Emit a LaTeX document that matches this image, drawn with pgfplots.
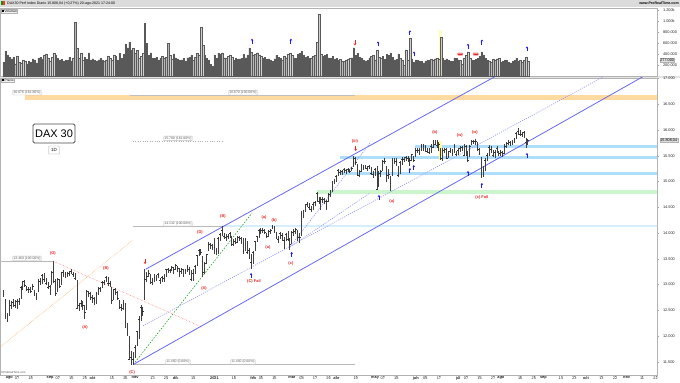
\documentclass[border=0pt]{standalone}
\usepackage{fontspec}
\setmainfont{Liberation Sans}
\usepackage{pgfplots}
\usepackage{pgfplotstable}
\pgfplotsset{compat=1.18}
\usetikzlibrary{arrows.meta}
\definecolor{chan}{RGB}{105,105,235}
\definecolor{dotb}{RGB}{140,140,250}
\definecolor{bandb}{RGB}{175,222,250}
\definecolor{bandg}{RGB}{205,245,205}
\definecolor{bando}{RGB}{253,218,160}
\definecolor{wred}{RGB}{235,35,35}
\definecolor{arrb}{RGB}{30,30,230}

\pgfplotstableread{
i H L C
-3 12900 12760 12822
-2 12720 12330 12379
-1 12450 12270 12313
0 12700 12400 12646
1 12680 12520 12600
2 12720 12560 12660
3 12700 12540 12591
4 12720 12520 12674
5 12750 12600 12687
6 12980 12720 12946
7 13080 12900 13058
8 13090 12950 12993
9 12980 12880 12901
10 12960 12830 12920
11 12950 12840 12881
12 13010 12900 12977
13 12900 12780 12830
14 12840 12700 12764
15 13100 12850 13066
16 13120 13000 13062
17 13200 13020 13190
18 13220 13060 13096
19 13120 12990 13033
20 13050 12920 12945
21 13000 12800 12974
22 13260 13000 13243
23 13460 13040 13057
24 13100 12770 12842
25 13120 12860 13100
26 13110 12940 12968
27 13250 13000 13237
28 13290 13150 13208
29 13240 13130 13202
30 13240 13150 13193
31 13260 13160 13217
32 13300 13200 13255
33 13240 13150 13208
34 13230 13100 13116
35 13090 12520 12542
36 12650 12480 12594
37 12700 12560 12642
38 12680 12500 12606
39 12600 12340 12469
40 12900 12500 12870
41 12880 12760 12825
42 12850 12700 12760
43 12800 12650 12731
44 12760 12600 12689
45 12850 12620 12828
46 12950 12800 12906
47 12960 12850 12928
48 13070 12930 13042
49 13090 13000 13051
50 13170 13050 13138
51 13150 12980 13018
52 13080 12950 13028
53 12950 12630 12703
54 12920 12700 12908
55 12930 12800 12854
56 12880 12700 12737
57 12700 12520 12558
58 12620 12480 12543
59 12700 12500 12646
60 12650 12170 12178
61 12250 12000 12064
62 12000 11550 11560
63 11720 11450 11598
64 11700 11450 11556
65 11820 11580 11789
66 12100 11800 12089
67 12400 11950 12324
68 12600 12300 12568
69 12560 12400 12480
70 13300 12700 13096
71 13250 13050 13163
72 13280 13150 13216
73 13200 13020 13052
74 13120 13000 13077
75 13200 13050 13139
76 13180 13080 13133
77 13230 13120 13201
78 13130 13020 13087
79 13170 13060 13137
80 13200 13050 13126
81 13310 13150 13292
82 13320 13220 13290
83 13310 13230 13286
84 13360 13260 13335
85 13350 13200 13291
86 13400 13280 13382
87 13370 13240 13313
88 13320 13150 13252
89 13320 13200 13299
90 13300 13150 13271
91 13310 13200 13278
92 13380 13250 13340
93 13350 13190 13296
94 13280 13080 13114
95 13300 13070 13223
96 13380 13200 13362
97 13580 13360 13565
98 13700 13550 13667
99 13690 13580 13631
100 13550 13150 13246
101 13430 13200 13418
102 13600 13400 13587
103 13820 13650 13790
104 13810 13700 13761
105 13780 13680 13719
106 13900 13600 13726
107 13720 13570 13652
108 13920 13600 13892
109 14000 13850 13968
110 14130 13950 14050
111 14000 13880 13937
112 13980 13850 13925
113 13990 13880 13940
114 14020 13900 13989
115 13950 13750 13788
116 13880 13750 13848
117 13900 13780 13816
118 13950 13800 13922
119 13950 13850 13906
120 13930 13780 13873
121 13900 13600 13643
122 13900 13650 13871
123 13850 13600 13620
124 13720 13500 13666
125 13600 13310 13433
126 13650 13400 13623
127 13850 13650 13835
128 13950 13820 13933
129 14080 13900 14060
130 14100 13980 14057
131 14100 14000 14060
132 14080 13980 14012
133 14000 13900 13932
134 14060 13920 14041
135 14080 13980 14050
136 14160 14080 14109
137 14130 14000 14064
138 14020 13880 13909
139 13950 13800 13887
140 14030 13880 13993
141 14000 13850 13950
142 13920 13700 13865
143 14000 13850 13976
144 14050 13850 13879
145 13900 13670 13786
146 14050 13780 14012
147 14080 13950 14039
148 14100 13980 14080
149 14060 13850 13920
150 14000 13800 13920
151 14420 13950 14380
152 14450 14300 14437
153 14560 14400 14540
154 14600 14500 14569
155 14580 14450 14502
156 14520 14400 14461
157 14600 14450 14557
158 14620 14520 14596
159 14800 14600 14775
160 14700 14570 14621
161 14700 14450 14657
162 14700 14580 14662
163 14680 14560 14611
164 14650 14450 14621
165 14780 14600 14748
166 14830 14700 14818
167 15020 14800 15008
168 15050 14950 15008
169 15120 15000 15107
170 15250 15100 15212
171 15230 15120 15177
172 15230 15130 15203
173 15260 15170 15234
174 15250 15150 15215
175 15260 15180 15234
176 15250 15160 15209
177 15290 15200 15255
178 15500 15280 15460
179 15480 15320 15368
180 15350 15100 15130
181 15220 15080 15196
182 15340 15180 15321
183 15330 15220 15280
184 15320 15240 15296
185 15300 15200 15249
186 15330 15240 15292
187 15290 15120 15155
188 15200 15070 15136
189 15260 15100 15236
190 15300 14850 14856
191 15200 14900 15170
192 15230 15080 15197
193 15420 15200 15400
194 15450 15350 15400
195 15300 15000 15120
196 15250 15050 15150
197 15100 14820 14966
198 15450 15100 15416
199 15450 15350 15397
200 15450 15300 15386
201 15300 15100 15113
202 15400 15150 15370
203 15470 15330 15438
204 15470 15380 15437
205 15500 15400 15466
206 15500 15380 15450
207 15450 15300 15406
208 15540 15400 15520
209 15500 15380 15421
210 15650 15480 15603
211 15650 15550 15602
212 15650 15520 15632
213 15720 15600 15693
214 15720 15600 15677
215 15700 15580 15640
216 15650 15550 15581
217 15650 15530 15571
218 15720 15560 15693
219 15800 15650 15673
220 15810 15700 15730
221 15800 15650 15711
222 15760 15600 15727
223 15650 15420 15448
224 15650 15400 15603
225 15650 15550 15636
226 15660 15470 15456
227 15600 15450 15589
228 15650 15550 15607
229 15630 15500 15554
230 15720 15550 15691
231 15600 15500 15531
232 15650 15520 15603
233 15680 15580 15650
234 15690 15600 15661
235 15720 15500 15511
236 15700 15500 15692
237 15600 15380 15421
238 15700 15480 15688
239 15800 15700 15790
240 15810 15720 15789
241 15820 15700 15788
242 15760 15600 15630
243 15650 15520 15540
244 15480 15070 15133
245 15300 15080 15216
246 15450 15200 15422
247 15560 15400 15514
248 15700 15500 15669
249 15680 15560 15618
250 15620 15480 15519
251 15620 15450 15570
252 15680 15560 15640
253 15600 15500 15544
254 15620 15500 15568
255 15600 15480 15555
256 15720 15540 15692
257 15770 15650 15744
258 15800 15700 15761
259 15780 15690 15745
260 15800 15700 15770
261 15850 15750 15826
262 15960 15820 15937
263 16030 15900 15977
264 16000 15880 15925
265 15960 15870 15921
266 15990 15850 15965
267 15850 15650 15765
268 15830 15700 15808
}\price

\pgfplotstableread{
i v
-3 265
-2 460
-1 390
0 354
1 318
2 354
3 230
4 372
5 265
6 248
7 300
8 270
9 230
10 280
11 260
12 320
13 300
14 250
15 330
16 350
17 310
18 380
19 400
20 330
21 280
22 350
23 420
24 380
25 330
26 300
27 310
28 280
29 300
30 290
31 350
32 280
33 340
34 973
35 515
36 330
37 420
38 300
39 350
40 310
41 430
42 300
43 320
44 290
45 280
46 300
47 330
48 300
49 270
50 300
51 370
52 330
53 290
54 390
55 360
56 300
57 420
58 330
59 400
60 580
61 520
62 620
63 480
64 510
65 420
66 470
67 330
68 370
69 420
70 955
71 600
72 380
73 430
74 330
75 330
76 350
77 300
78 330
79 360
80 340
81 350
82 600
83 380
84 310
85 410
86 340
87 320
88 300
89 300
90 330
91 270
92 340
93 350
94 380
95 300
96 350
97 420
98 390
99 885
100 560
101 380
102 330
103 300
104 220
105 180
106 380
107 330
108 420
109 400
110 430
111 340
112 330
113 360
114 380
115 350
116 300
117 330
118 310
119 320
120 330
121 400
122 340
123 380
124 510
125 440
126 380
127 400
128 430
129 390
130 360
131 330
132 350
133 310
134 320
135 300
136 270
137 320
138 380
139 350
140 330
141 300
142 370
143 340
144 400
145 420
146 380
147 340
148 330
149 400
150 420
151 450
152 380
153 350
154 360
155 330
156 340
157 360
158 380
159 620
160 1115
161 400
162 360
163 380
164 400
165 340
166 330
167 360
168 310
169 330
170 290
171 310
172 280
173 270
174 300
175 310
176 330
177 340
178 513
179 380
180 420
181 350
182 330
183 300
184 280
185 290
186 340
187 360
188 380
189 300
190 478
191 350
192 330
193 360
194 310
195 400
196 380
197 420
198 350
199 300
200 310
201 400
202 330
203 300
204 200
205 478
206 300
207 690
208 320
209 260
210 290
211 300
212 280
213 270
214 250
215 280
216 300
217 290
218 310
219 300
220 320
221 330
222 310
223 708
224 330
225 300
226 320
227 290
228 280
229 270
230 340
231 330
232 300
233 290
234 220
235 330
236 380
237 442
238 330
239 300
240 290
241 310
242 330
243 360
244 442
245 380
246 330
247 300
248 280
249 260
250 310
251 300
252 320
253 330
254 260
255 280
256 300
257 290
258 260
259 250
260 270
261 290
262 330
263 280
264 290
265 260
266 300
267 354
268 277
}\vol

\pgfplotsset{
  base/.style={
    scale only axis, width=657bp,
    xmin=-4.86, xmax=334.7,
    scaled x ticks=false, scaled y ticks=false,
    axis line style={draw=gray!60, line width=0.4bp},
    tick style={draw=gray!70, line width=0.3bp},
    major tick length=1.5bp,
    tick align=outside,
    ticklabel style={font=\fontsize{3.9}{4}\selectfont, text=black!85},
    ytick pos=right, yticklabel pos=right,
    yticklabel style={anchor=west, xshift=1bp},
  },
}
\tikzset{
  gbox/.style={draw=gray!55, fill=white, text=gray!75!black, font=\fontsize{3.4}{4}\selectfont, inner sep=0.7bp, rounded corners=0.4bp},
  wl/.style={text=wred, font=\bfseries\fontsize{4}{4}\selectfont, inner sep=0pt},
}

\begin{document}
\begin{tikzpicture}[x=1bp,y=1bp]
\useasboundingbox (0bp,0bp) rectangle (680bp,383bp);
\fill[white] (0bp,0bp) rectangle (680bp,383bp);
% title bar
\fill[gray!28] (0bp,376bp) rectangle (680bp,383bp);
\fill[green!60!black] (1bp,377.5bp) rectangle (2.6bp,381.5bp);
\fill[red!80] (3bp,377.5bp) rectangle (4.6bp,381.5bp);
\node[anchor=west, font=\fontsize{3.6}{4}\selectfont, inner sep=0] at (7bp,379.5bp) {DAX30 Perf Index Diario 15.808,04 (+0,27\%) 20-ago-2021 17:24:00};
\node[anchor=east, font=\bfseries\fontsize{3.6}{4}\selectfont, inner sep=0] at (679bp,380bp) {www.ProRealTime.com};
% separator between panels
\fill[gray!22] (0bp,304.5bp) rectangle (680bp,306.5bp);

% ================= VOLUME =================
\begin{axis}[base, at={(0bp,306.5bp)}, anchor=south west, height=68.5bp,
  ymin=0, ymax=1232, xtick=\empty,
  ytick={200,400,600,800,1000,1200},
  yticklabels={200.000,400.000,600.000,800.000,1.000k,1.200k}]
\addplot[fill=yellow!25, draw=none] coordinates {(222.2,0) (223.8,0) (223.8,840) (222.2,840)} -- cycle;
\addplot[ybar, bar width=0.72, bar shift=0pt, fill=gray!55, draw=black!65, line width=0.15bp] table[x=i, y=v] {\vol};
\addplot[arrb, line width=0.9bp, -{Stealth[length=2bp,width=2.6bp]}, quiver={u=0, v=\thisrow{v}}] table[x=i, y=y] {
i y v
125.4 590 90
145.5 590 90
190.5 540 90
207 740 90
209.1 360 90
237 500 90
244.2 575 90
267.5 450 90
};
\addplot[wred, line width=0.9bp, -{Stealth[length=2bp,width=2.6bp]}, quiver={u=0, v=\thisrow{v}}] table[x=i, y=y] {
i y v
178.6 650 -90
};
\node[fill=wred, text=white, font=\bfseries\fontsize{2.8}{3}\selectfont, inner sep=0.5bp, rounded corners=0.5bp] at (axis cs:232.9,404) {HD};
\node[fill=wred, text=white, font=\bfseries\fontsize{2.8}{3}\selectfont, inner sep=0.5bp, rounded corners=0.5bp] at (axis cs:241.1,404) {HD};
\end{axis}

% ================= PRICE =================
\begin{axis}[base, at={(0bp,8bp)}, anchor=south west, height=297bp,
  ymin=11247, ymax=17009,
  xtick pos=left,
  xtick={0,4,11,21,25,32,39,43,53,60,65,74,81,86,95,106,116,126,130,137,146,151,158,165,169,179,189,193,200,210,215,222,232,236,243,250,254,264,271,276,285,292,298,306,313,319,327,334},
  xticklabels={\textbf{ago},07,18,\textbf{sep},07,16,25,\textbf{oct},15,26,\textbf{nov},13,24,\textbf{dic},14,\textbf{2021},18,\textbf{feb},05,16,\textbf{mar},08,17,26,\textbf{abr},19,\textbf{may},07,18,\textbf{jun},08,17,\textbf{jul},07,16,27,\textbf{ago},16,25,\textbf{sep},14,23,\textbf{oct},13,22,\textbf{nov},11,22},
  xticklabel style={inner sep=0.3bp, yshift=0.3bp},
  ytick={11500,12000,12500,13000,13500,14000,14500,15000,15500,16000,16500,17000},
  yticklabels={11.500,12.000,12.500,13.000,13.500,14.000,14.500,15.000,15.500,16.000,16.500,17.000}]
% bands
\addplot[fill=bando, draw=none] coordinates {(8.1,16580) (340,16580) (340,16670) (8.1,16670)} -- cycle;
\addplot[fill=bandb, draw=none] coordinates {(209.6,15650) (340,15650) (340,15710) (209.6,15710)} -- cycle;
\addplot[fill=bandb, draw=none] coordinates {(171,15440) (340,15440) (340,15500) (171,15500)} -- cycle;
\addplot[fill=bandb, draw=none] coordinates {(171,15130) (340,15130) (340,15190) (171,15190)} -- cycle;
\addplot[fill=bandg, draw=none] coordinates {(159,14760) (340,14760) (340,14840) (159,14840)} -- cycle;
\addplot[fill=bandb!50, draw=none] coordinates {(110,14110) (340,14110) (340,14155) (110,14155)} -- cycle;
% highlight
\addplot[fill=yellow!35, draw=none] coordinates {(222.2,15420) (223.8,15420) (223.8,15780) (222.2,15780)} -- cycle;
% gray level lines
\addplot[gray!50, line width=0.5bp] coordinates {(62.3,16676) (178.6,16676)};
\addplot[gray!60, line width=0.4bp, dotted] coordinates {(63.9,15789) (110,15789)};
\addplot[gray!55, line width=0.5bp] coordinates {(63.9,14132) (110,14132)};
\addplot[gray!55, line width=0.5bp] coordinates {(63.9,11450) (178.6,11450)};
\addplot[gray!55, line width=0.5bp] coordinates {(-5,13460) (23,13460)};
% fib fans
\addplot[orange!70, line width=0.5bp, densely dotted] coordinates {(-4.86,11790) (63.9,13866)};
\addplot[red!55, line width=0.5bp, densely dotted] coordinates {(23.6,13439) (99.5,12178)};
\addplot[green!60!black, line width=0.5bp, dash pattern=on 1.5bp off 1.5bp] coordinates {(64,11450) (125.4,14390)};
% channels
\addplot[chan, line width=0.8bp] coordinates {(64,11450) (334.7,17189)};
\addplot[chan, line width=0.8bp] coordinates {(70.5,13300) (334.7,18769)};
\addplot[dotb, line width=0.6bp, dash pattern=on 1bp off 1.2bp] coordinates {(69,12200) (334.7,17594)};
\addplot[dotb, line width=0.6bp, dash pattern=on 1bp off 1.2bp] coordinates {(145,13730) (186.4,15748)};
\addplot[dotb, line width=0.6bp, dash pattern=on 1bp off 1.2bp] coordinates {(145,13730) (186.4,14778)};
% OHLC bars
\addplot[black!80, only marks, mark=-, mark size=0.9bp, mark options={line width=0.5bp},
  error bars/.cd, y dir=both, y explicit, error mark=none,
  error bar style={line width=0.95bp, black!75}]
  table[x=i, y=C, y error plus expr=\thisrow{H}-\thisrow{C}, y error minus expr=\thisrow{C}-\thisrow{L}] {\price};
% arrows
\addplot[arrb, line width=0.9bp, -{Stealth[length=2bp,width=2.6bp]}, quiver={u=0, v=\thisrow{v}}] table[x=i, y=y] {
i y v
124.9 13129 97
145.9 13536 97
191 14642 97
207 15165 97
209 15223 97
237 15108 97
244.2 14875 97
267.5 15457 97
};
\addplot[wred, line width=0.9bp, -{Stealth[length=2bp,width=2.6bp]}, quiver={u=0, v=\thisrow{v}}] table[x=i, y=y] {
i y v
70.1 13497 -97
179 15690 -97
};
% level labels
\node[gbox, anchor=south] at (axis cs:9.1,16676) {16.676 (161.80\%)};
\node[gbox, anchor=south] at (axis cs:120.7,16676) {16.670 (100.00\%)};
\node[gbox, anchor=south] at (axis cs:87.1,15789) {15.789 (161.80\%)};
\node[gbox, anchor=south] at (axis cs:87.1,14132) {14.132 (100.00\%)};
\node[gbox, anchor=south] at (axis cs:87.1,11450) {11.450 (0.00\%)};
\node[gbox, anchor=south] at (axis cs:120.7,11450) {11.450 (0.00\%)};
\node[gbox, anchor=south] at (axis cs:9.1,13460) {13.460 (100.00\%)};
% wave labels
\node[wl] at (axis cs:22.5,13614) {(O)};
\node[wl] at (axis cs:39.1,12178) {(A)};
\node[wl] at (axis cs:49.9,13323) {(B)};
\node[wl] at (axis cs:63.4,11305) {(C)};
\node[wl] at (axis cs:98.5,14021) {(D)};
\node[wl] at (axis cs:110.4,14332) {(B)};
\node[wl] at (axis cs:100.6,12935) {(A)};
\node[wl] at (axis cs:126.4,13070) {(C) Fail};
\node[wl] at (axis cs:131.6,14312) {(a)};
\node[wl] at (axis cs:136.8,14254) {(b)};
\node[wl] at (axis cs:133.6,13730) {(a)};
\node[wl] at (axis cs:145.5,13420) {(c)};
\node[wl] at (axis cs:178.6,15787) {(iii)};
\node[wl] at (axis cs:197.7,14621) {(a)};
\node[wl] at (axis cs:219.9,15961) {(b)};
\node[wl] at (axis cs:232.8,15890) {(w)};
\node[wl] at (axis cs:240.6,15960) {(w)};
\node[wl] at (axis cs:244.2,14700) {(c) Fail};
\end{axis}

% panel labels
\node[draw=gray!60, fill=gray!10, font=\fontsize{3.2}{3.5}\selectfont, inner sep=0.6bp, anchor=north west] at (1bp,374bp) {\rule{2bp}{2bp} Volumen};
\node[draw=gray!60, fill=gray!10, font=\fontsize{3.2}{3.5}\selectfont, inner sep=0.6bp, anchor=north west] at (1bp,305bp) {\rule{2bp}{2bp} Precio};
% DAX box
\node[draw=black!70, line width=0.8bp, rounded corners=1.5bp, fill=white, minimum width=42bp, minimum height=19bp, font=\fontsize{11}{12}\selectfont, inner sep=0] at (54bp,249.5bp) {DAX 30};
\node[draw=gray!70, rounded corners=0.8bp, fill=white, minimum width=11bp, minimum height=8bp, font=\fontsize{4.5}{5}\selectfont, inner sep=0] at (54bp,233bp) {1D};
% current values on right axis
\node[fill=gray!25, draw=gray!60, font=\fontsize{3.8}{4}\selectfont, inner sep=0.6bp, anchor=west] at (659.5bp,243bp) {15.808,04};
\node[fill=gray!25, draw=gray!60, font=\fontsize{3.8}{4}\selectfont, inner sep=0.6bp, anchor=west] at (659.5bp,322.5bp) {277.000};
\node[anchor=west, font=\fontsize{2.8}{3}\selectfont, text=gray!60!black, inner sep=0] at (1bp,10.5bp) {\copyright ProRealTime.com};
\end{tikzpicture}
\end{document}
